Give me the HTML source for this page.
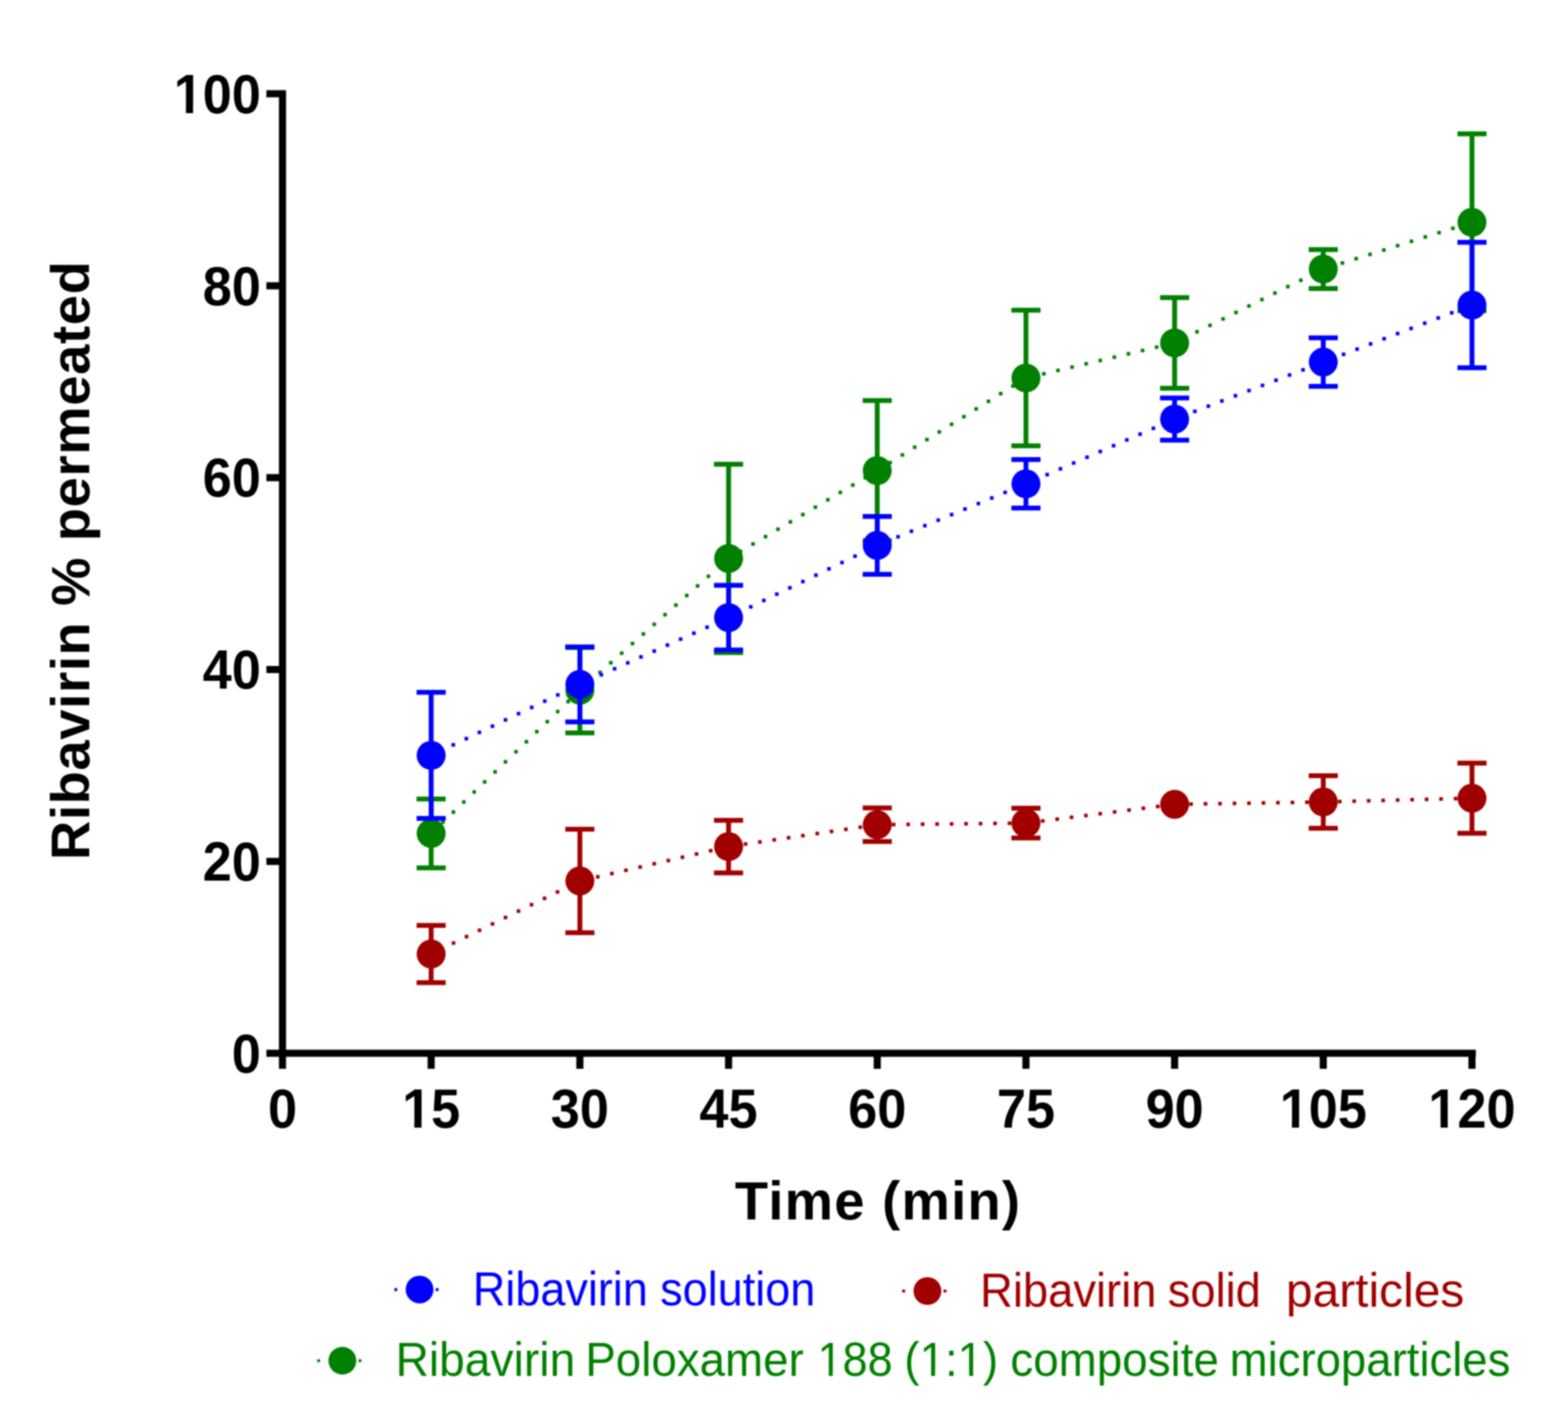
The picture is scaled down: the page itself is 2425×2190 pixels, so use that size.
<!DOCTYPE html>
<html><head><meta charset="utf-8"><title>Ribavirin permeation</title>
<style>
html,body{margin:0;padding:0;background:#fff;width:2425px;height:2190px;overflow:hidden;}
svg{display:block;filter:blur(1px);}
text{font-family:"Liberation Sans",Arial,Helvetica,sans-serif;}
</style></head><body>
<svg width="2425" height="2190" viewBox="0 0 2425 2190">
<rect width="2425" height="2190" fill="#fff"/>
<path d="M436.9 139.6V1634.6M412 1629.1H2282.5M412 1332.3H437M412 1035.5H437M412 738.7H437M412 441.9H437M412 145.1H437M436.9 1629V1653M666.8 1629V1653M896.8 1629V1653M1126.8 1629V1653M1356.7 1629V1653M1586.7 1629V1653M1816.6 1629V1653M2046.5 1629V1653M2276.5 1629V1653" stroke="#000" stroke-width="11" fill="none"/>
<g transform="translate(403.50,1658.70) scale(0.9400,1)"><text font-size="86" font-weight="bold" text-anchor="end" fill="#000" xml:space="preserve">0</text></g>
<g transform="translate(403.50,1361.90) scale(0.9400,1)"><text font-size="86" font-weight="bold" text-anchor="end" fill="#000" xml:space="preserve">20</text></g>
<g transform="translate(403.50,1065.10) scale(0.9400,1)"><text font-size="86" font-weight="bold" text-anchor="end" fill="#000" xml:space="preserve">40</text></g>
<g transform="translate(403.50,768.30) scale(0.9400,1)"><text font-size="86" font-weight="bold" text-anchor="end" fill="#000" xml:space="preserve">60</text></g>
<g transform="translate(403.50,471.50) scale(0.9400,1)"><text font-size="86" font-weight="bold" text-anchor="end" fill="#000" xml:space="preserve">80</text></g>
<g transform="translate(403.50,174.70) scale(0.9400,1)"><text font-size="86" font-weight="bold" text-anchor="end" fill="#000" xml:space="preserve">100</text><g fill="#fff"><rect x="-139.54" y="-9.98" width="16.16" height="11.18"/><rect x="-111.58" y="-9.98" width="15.06" height="11.18"/></g></g>
<g transform="translate(436.90,1744.00) scale(0.9400,1)"><text font-size="86" font-weight="bold" text-anchor="middle" fill="#000" xml:space="preserve">0</text></g>
<g transform="translate(666.85,1744.00) scale(0.9400,1)"><text font-size="86" font-weight="bold" text-anchor="middle" fill="#000" xml:space="preserve">15</text><g fill="#fff"><rect x="-43.90" y="-9.98" width="16.16" height="11.18"/><rect x="-15.95" y="-9.98" width="15.06" height="11.18"/></g></g>
<g transform="translate(896.80,1744.00) scale(0.9400,1)"><text font-size="86" font-weight="bold" text-anchor="middle" fill="#000" xml:space="preserve">30</text></g>
<g transform="translate(1126.75,1744.00) scale(0.9400,1)"><text font-size="86" font-weight="bold" text-anchor="middle" fill="#000" xml:space="preserve">45</text></g>
<g transform="translate(1356.70,1744.00) scale(0.9400,1)"><text font-size="86" font-weight="bold" text-anchor="middle" fill="#000" xml:space="preserve">60</text></g>
<g transform="translate(1586.65,1744.00) scale(0.9400,1)"><text font-size="86" font-weight="bold" text-anchor="middle" fill="#000" xml:space="preserve">75</text></g>
<g transform="translate(1816.60,1744.00) scale(0.9400,1)"><text font-size="86" font-weight="bold" text-anchor="middle" fill="#000" xml:space="preserve">90</text></g>
<g transform="translate(2046.55,1744.00) scale(0.9400,1)"><text font-size="86" font-weight="bold" text-anchor="middle" fill="#000" xml:space="preserve">105</text><g fill="#fff"><rect x="-67.81" y="-9.98" width="16.16" height="11.18"/><rect x="-39.86" y="-9.98" width="15.06" height="11.18"/></g></g>
<g transform="translate(2276.50,1744.00) scale(0.9400,1)"><text font-size="86" font-weight="bold" text-anchor="middle" fill="#000" xml:space="preserve">120</text><g fill="#fff"><rect x="-67.81" y="-9.98" width="16.16" height="11.18"/><rect x="-39.86" y="-9.98" width="15.06" height="11.18"/></g></g>
<text x="1357" y="1885.7" text-anchor="middle" font-weight="bold" font-size="84" textLength="441" lengthAdjust="spacing">Time (min)</text>
<text transform="translate(137.5,867) rotate(-90)" text-anchor="middle" font-weight="bold" font-size="84" textLength="926" lengthAdjust="spacing">Ribavirin % permeated</text>
<g fill="#008000"><rect x="682.2" y="1268.7" width="5.6" height="5.6"/><rect x="698.4" y="1253.2" width="5.6" height="5.6"/><rect x="714.5" y="1237.6" width="5.6" height="5.6"/><rect x="730.6" y="1222.1" width="5.6" height="5.6"/><rect x="746.8" y="1206.5" width="5.6" height="5.6"/><rect x="762.9" y="1191.0" width="5.6" height="5.6"/><rect x="779.0" y="1175.5" width="5.6" height="5.6"/><rect x="795.2" y="1159.9" width="5.6" height="5.6"/><rect x="811.3" y="1144.4" width="5.6" height="5.6"/><rect x="827.4" y="1128.8" width="5.6" height="5.6"/><rect x="843.6" y="1113.3" width="5.6" height="5.6"/><rect x="859.7" y="1097.7" width="5.6" height="5.6"/><rect x="875.8" y="1082.2" width="5.6" height="5.6"/><rect x="925.2" y="1037.1" width="5.6" height="5.6"/><rect x="941.9" y="1022.2" width="5.6" height="5.6"/><rect x="958.7" y="1007.4" width="5.6" height="5.6"/><rect x="975.4" y="992.5" width="5.6" height="5.6"/><rect x="992.2" y="977.7" width="5.6" height="5.6"/><rect x="1009.0" y="962.8" width="5.6" height="5.6"/><rect x="1025.7" y="947.9" width="5.6" height="5.6"/><rect x="1042.5" y="933.1" width="5.6" height="5.6"/><rect x="1059.3" y="918.2" width="5.6" height="5.6"/><rect x="1076.0" y="903.4" width="5.6" height="5.6"/><rect x="1092.8" y="888.5" width="5.6" height="5.6"/><rect x="1142.5" y="849.9" width="5.6" height="5.6"/><rect x="1161.8" y="838.5" width="5.6" height="5.6"/><rect x="1181.1" y="827.1" width="5.6" height="5.6"/><rect x="1200.4" y="815.7" width="5.6" height="5.6"/><rect x="1219.6" y="804.3" width="5.6" height="5.6"/><rect x="1238.9" y="793.0" width="5.6" height="5.6"/><rect x="1258.2" y="781.6" width="5.6" height="5.6"/><rect x="1277.5" y="770.2" width="5.6" height="5.6"/><rect x="1296.8" y="758.8" width="5.6" height="5.6"/><rect x="1316.1" y="747.4" width="5.6" height="5.6"/><rect x="1335.3" y="736.0" width="5.6" height="5.6"/><rect x="1373.8" y="712.6" width="5.6" height="5.6"/><rect x="1392.8" y="700.8" width="5.6" height="5.6"/><rect x="1411.8" y="688.9" width="5.6" height="5.6"/><rect x="1430.8" y="677.1" width="5.6" height="5.6"/><rect x="1449.9" y="665.2" width="5.6" height="5.6"/><rect x="1468.9" y="653.4" width="5.6" height="5.6"/><rect x="1487.9" y="641.6" width="5.6" height="5.6"/><rect x="1506.9" y="629.7" width="5.6" height="5.6"/><rect x="1525.9" y="617.9" width="5.6" height="5.6"/><rect x="1544.9" y="606.0" width="5.6" height="5.6"/><rect x="1563.9" y="594.2" width="5.6" height="5.6"/><rect x="1611.6" y="575.3" width="5.6" height="5.6"/><rect x="1633.4" y="570.1" width="5.6" height="5.6"/><rect x="1655.2" y="565.0" width="5.6" height="5.6"/><rect x="1677.0" y="559.8" width="5.6" height="5.6"/><rect x="1698.8" y="554.7" width="5.6" height="5.6"/><rect x="1720.6" y="549.6" width="5.6" height="5.6"/><rect x="1742.4" y="544.4" width="5.6" height="5.6"/><rect x="1764.2" y="539.3" width="5.6" height="5.6"/><rect x="1786.0" y="534.1" width="5.6" height="5.6"/><rect x="1848.5" y="510.3" width="5.6" height="5.6"/><rect x="1868.6" y="500.4" width="5.6" height="5.6"/><rect x="1888.7" y="490.4" width="5.6" height="5.6"/><rect x="1908.7" y="480.4" width="5.6" height="5.6"/><rect x="1928.8" y="470.4" width="5.6" height="5.6"/><rect x="1948.8" y="460.5" width="5.6" height="5.6"/><rect x="1968.9" y="450.5" width="5.6" height="5.6"/><rect x="1989.0" y="440.5" width="5.6" height="5.6"/><rect x="2009.0" y="430.6" width="5.6" height="5.6"/><rect x="2073.3" y="404.0" width="5.6" height="5.6"/><rect x="2094.6" y="397.3" width="5.6" height="5.6"/><rect x="2116.0" y="390.6" width="5.6" height="5.6"/><rect x="2137.4" y="383.9" width="5.6" height="5.6"/><rect x="2158.7" y="377.2" width="5.6" height="5.6"/><rect x="2180.1" y="370.4" width="5.6" height="5.6"/><rect x="2201.5" y="363.7" width="5.6" height="5.6"/><rect x="2222.8" y="357.0" width="5.6" height="5.6"/><rect x="2244.2" y="350.3" width="5.6" height="5.6"/></g>
<path d="M666.8 1235.8V1342.2M644.3 1235.8H689.3M644.3 1342.2H689.3M896.8 1001.4V1133.6M874.3 1001.4H919.3M874.3 1133.6H919.3M1126.8 718.1V1009.3M1104.2 718.1H1149.2M1104.2 1009.3H1149.2M1356.7 619.4V836.2M1334.2 619.4H1379.2M1334.2 836.2H1379.2M1586.7 479.8V689.4M1564.2 479.8H1609.2M1564.2 689.4H1609.2M1816.6 460.3V600.5M1794.1 460.3H1839.1M1794.1 600.5H1839.1M2046.5 385.9V446.3M2024.0 385.9H2069.0M2024.0 446.3H2069.0M2276.5 207.0V480.6M2254.0 207.0H2299.0M2254.0 480.6H2299.0" stroke="#008000" stroke-width="7.5" fill="none"/>
<g fill="#008000"><circle cx="666.8" cy="1289.0" r="22.4"/><circle cx="896.8" cy="1067.5" r="22.4"/><circle cx="1126.8" cy="863.7" r="22.4"/><circle cx="1356.7" cy="727.8" r="22.4"/><circle cx="1586.7" cy="584.6" r="22.4"/><circle cx="1816.6" cy="530.4" r="22.4"/><circle cx="2046.5" cy="416.1" r="22.4"/><circle cx="2276.5" cy="343.8" r="22.4"/></g>
<g fill="#A00000"><rect x="698.6" y="1455.7" width="5.6" height="5.6"/><rect x="718.7" y="1445.8" width="5.6" height="5.6"/><rect x="738.8" y="1436.0" width="5.6" height="5.6"/><rect x="758.9" y="1426.1" width="5.6" height="5.6"/><rect x="779.0" y="1416.2" width="5.6" height="5.6"/><rect x="799.1" y="1406.3" width="5.6" height="5.6"/><rect x="819.2" y="1396.4" width="5.6" height="5.6"/><rect x="839.3" y="1386.6" width="5.6" height="5.6"/><rect x="859.4" y="1376.7" width="5.6" height="5.6"/><rect x="921.7" y="1353.3" width="5.6" height="5.6"/><rect x="943.5" y="1348.2" width="5.6" height="5.6"/><rect x="965.3" y="1343.2" width="5.6" height="5.6"/><rect x="987.2" y="1338.1" width="5.6" height="5.6"/><rect x="1009.0" y="1333.1" width="5.6" height="5.6"/><rect x="1030.8" y="1328.1" width="5.6" height="5.6"/><rect x="1052.6" y="1323.0" width="5.6" height="5.6"/><rect x="1074.4" y="1318.0" width="5.6" height="5.6"/><rect x="1096.3" y="1312.9" width="5.6" height="5.6"/><rect x="1150.3" y="1302.6" width="5.6" height="5.6"/><rect x="1172.4" y="1299.4" width="5.6" height="5.6"/><rect x="1194.6" y="1296.1" width="5.6" height="5.6"/><rect x="1216.8" y="1292.9" width="5.6" height="5.6"/><rect x="1238.9" y="1289.6" width="5.6" height="5.6"/><rect x="1261.1" y="1286.3" width="5.6" height="5.6"/><rect x="1283.2" y="1283.1" width="5.6" height="5.6"/><rect x="1305.4" y="1279.8" width="5.6" height="5.6"/><rect x="1327.6" y="1276.6" width="5.6" height="5.6"/><rect x="1379.3" y="1272.4" width="5.6" height="5.6"/><rect x="1401.7" y="1272.2" width="5.6" height="5.6"/><rect x="1424.1" y="1271.9" width="5.6" height="5.6"/><rect x="1446.5" y="1271.7" width="5.6" height="5.6"/><rect x="1468.9" y="1271.5" width="5.6" height="5.6"/><rect x="1491.3" y="1271.2" width="5.6" height="5.6"/><rect x="1513.7" y="1271.0" width="5.6" height="5.6"/><rect x="1536.1" y="1270.7" width="5.6" height="5.6"/><rect x="1558.5" y="1270.5" width="5.6" height="5.6"/><rect x="1609.9" y="1266.9" width="5.6" height="5.6"/><rect x="1632.2" y="1264.1" width="5.6" height="5.6"/><rect x="1654.4" y="1261.3" width="5.6" height="5.6"/><rect x="1676.6" y="1258.5" width="5.6" height="5.6"/><rect x="1698.8" y="1255.7" width="5.6" height="5.6"/><rect x="1721.0" y="1252.9" width="5.6" height="5.6"/><rect x="1743.3" y="1250.1" width="5.6" height="5.6"/><rect x="1765.5" y="1247.3" width="5.6" height="5.6"/><rect x="1787.7" y="1244.5" width="5.6" height="5.6"/><rect x="1839.2" y="1240.8" width="5.6" height="5.6"/><rect x="1861.6" y="1240.4" width="5.6" height="5.6"/><rect x="1884.0" y="1240.1" width="5.6" height="5.6"/><rect x="1906.4" y="1239.7" width="5.6" height="5.6"/><rect x="1928.8" y="1239.4" width="5.6" height="5.6"/><rect x="1951.2" y="1239.0" width="5.6" height="5.6"/><rect x="1973.6" y="1238.6" width="5.6" height="5.6"/><rect x="1996.0" y="1238.3" width="5.6" height="5.6"/><rect x="2018.4" y="1237.9" width="5.6" height="5.6"/><rect x="2069.2" y="1236.9" width="5.6" height="5.6"/><rect x="2091.5" y="1236.3" width="5.6" height="5.6"/><rect x="2113.9" y="1235.7" width="5.6" height="5.6"/><rect x="2136.3" y="1235.2" width="5.6" height="5.6"/><rect x="2158.7" y="1234.6" width="5.6" height="5.6"/><rect x="2181.1" y="1234.0" width="5.6" height="5.6"/><rect x="2203.5" y="1233.5" width="5.6" height="5.6"/><rect x="2225.9" y="1232.9" width="5.6" height="5.6"/><rect x="2248.3" y="1232.3" width="5.6" height="5.6"/></g>
<path d="M666.8 1431.3V1519.7M644.3 1431.3H689.3M644.3 1519.7H689.3M896.8 1282.5V1442.5M874.3 1282.5H919.3M874.3 1442.5H919.3M1126.8 1268.7V1349.9M1104.2 1268.7H1149.2M1104.2 1349.9H1149.2M1356.7 1249.5V1301.5M1334.2 1249.5H1379.2M1334.2 1301.5H1379.2M1586.7 1249.9V1296.1M1564.2 1249.9H1609.2M1564.2 1296.1H1609.2M2046.5 1199.7V1280.9M2024.0 1199.7H2069.0M2024.0 1280.9H2069.0M2276.5 1180.2V1288.8M2254.0 1180.2H2299.0M2254.0 1288.8H2299.0" stroke="#A00000" stroke-width="7.5" fill="none"/>
<g fill="#A00000"><circle cx="666.8" cy="1475.5" r="22.4"/><circle cx="896.8" cy="1362.5" r="22.4"/><circle cx="1126.8" cy="1309.3" r="22.4"/><circle cx="1356.7" cy="1275.5" r="22.4"/><circle cx="1586.7" cy="1273.0" r="22.4"/><circle cx="1816.6" cy="1244.0" r="22.4"/><circle cx="2046.5" cy="1240.3" r="22.4"/><circle cx="2276.5" cy="1234.5" r="22.4"/></g>
<g fill="#0000FF"><rect x="698.2" y="1149.2" width="5.6" height="5.6"/><rect x="718.4" y="1139.6" width="5.6" height="5.6"/><rect x="738.6" y="1129.9" width="5.6" height="5.6"/><rect x="758.8" y="1120.3" width="5.6" height="5.6"/><rect x="779.0" y="1110.6" width="5.6" height="5.6"/><rect x="799.2" y="1100.9" width="5.6" height="5.6"/><rect x="819.5" y="1091.3" width="5.6" height="5.6"/><rect x="839.7" y="1081.6" width="5.6" height="5.6"/><rect x="859.9" y="1072.0" width="5.6" height="5.6"/><rect x="927.2" y="1040.8" width="5.6" height="5.6"/><rect x="947.7" y="1031.6" width="5.6" height="5.6"/><rect x="968.1" y="1022.4" width="5.6" height="5.6"/><rect x="988.5" y="1013.2" width="5.6" height="5.6"/><rect x="1009.0" y="1004.1" width="5.6" height="5.6"/><rect x="1029.4" y="994.9" width="5.6" height="5.6"/><rect x="1049.8" y="985.7" width="5.6" height="5.6"/><rect x="1070.3" y="976.5" width="5.6" height="5.6"/><rect x="1090.7" y="967.3" width="5.6" height="5.6"/><rect x="1158.3" y="935.7" width="5.6" height="5.6"/><rect x="1178.5" y="925.9" width="5.6" height="5.6"/><rect x="1198.6" y="916.1" width="5.6" height="5.6"/><rect x="1218.8" y="906.3" width="5.6" height="5.6"/><rect x="1238.9" y="896.6" width="5.6" height="5.6"/><rect x="1259.1" y="886.8" width="5.6" height="5.6"/><rect x="1279.2" y="877.0" width="5.6" height="5.6"/><rect x="1299.4" y="867.2" width="5.6" height="5.6"/><rect x="1319.5" y="857.4" width="5.6" height="5.6"/><rect x="1386.1" y="827.4" width="5.6" height="5.6"/><rect x="1406.8" y="818.8" width="5.6" height="5.6"/><rect x="1427.5" y="810.2" width="5.6" height="5.6"/><rect x="1448.2" y="801.7" width="5.6" height="5.6"/><rect x="1468.9" y="793.1" width="5.6" height="5.6"/><rect x="1489.6" y="784.5" width="5.6" height="5.6"/><rect x="1510.3" y="776.0" width="5.6" height="5.6"/><rect x="1531.0" y="767.4" width="5.6" height="5.6"/><rect x="1551.7" y="758.8" width="5.6" height="5.6"/><rect x="1616.7" y="731.2" width="5.6" height="5.6"/><rect x="1637.2" y="722.3" width="5.6" height="5.6"/><rect x="1657.7" y="713.3" width="5.6" height="5.6"/><rect x="1678.3" y="704.4" width="5.6" height="5.6"/><rect x="1698.8" y="695.5" width="5.6" height="5.6"/><rect x="1719.4" y="686.5" width="5.6" height="5.6"/><rect x="1739.9" y="677.6" width="5.6" height="5.6"/><rect x="1760.4" y="668.6" width="5.6" height="5.6"/><rect x="1781.0" y="659.7" width="5.6" height="5.6"/><rect x="1845.1" y="633.4" width="5.6" height="5.6"/><rect x="1866.0" y="625.4" width="5.6" height="5.6"/><rect x="1886.9" y="617.3" width="5.6" height="5.6"/><rect x="1907.9" y="609.3" width="5.6" height="5.6"/><rect x="1928.8" y="601.3" width="5.6" height="5.6"/><rect x="1949.7" y="593.3" width="5.6" height="5.6"/><rect x="1970.6" y="585.3" width="5.6" height="5.6"/><rect x="1991.5" y="577.2" width="5.6" height="5.6"/><rect x="2012.4" y="569.2" width="5.6" height="5.6"/><rect x="2075.1" y="545.2" width="5.6" height="5.6"/><rect x="2096.0" y="537.2" width="5.6" height="5.6"/><rect x="2116.9" y="529.1" width="5.6" height="5.6"/><rect x="2137.8" y="521.1" width="5.6" height="5.6"/><rect x="2158.7" y="513.1" width="5.6" height="5.6"/><rect x="2179.6" y="505.1" width="5.6" height="5.6"/><rect x="2200.6" y="497.1" width="5.6" height="5.6"/><rect x="2221.5" y="489.0" width="5.6" height="5.6"/><rect x="2242.4" y="481.0" width="5.6" height="5.6"/></g>
<path d="M666.8 1070.8V1265.8M644.3 1070.8H689.3M644.3 1265.8H689.3M896.8 1000.5V1116.5M874.3 1000.5H919.3M874.3 1116.5H919.3M1126.8 905.2V1005.2M1104.2 905.2H1149.2M1104.2 1005.2H1149.2M1356.7 798.8V888.2M1334.2 798.8H1379.2M1334.2 888.2H1379.2M1586.7 710.8V785.8M1564.2 710.8H1609.2M1564.2 785.8H1609.2M1816.6 615.6V680.8M1794.1 615.6H1839.1M1794.1 680.8H1839.1M2046.5 522.5V597.5M2024.0 522.5H2069.0M2024.0 597.5H2069.0M2276.5 374.8V568.8M2254.0 374.8H2299.0M2254.0 568.8H2299.0" stroke="#0000FF" stroke-width="7.5" fill="none"/>
<g fill="#0000FF"><circle cx="666.8" cy="1168.3" r="22.4"/><circle cx="896.8" cy="1058.5" r="22.4"/><circle cx="1126.8" cy="955.2" r="22.4"/><circle cx="1356.7" cy="843.5" r="22.4"/><circle cx="1586.7" cy="748.3" r="22.4"/><circle cx="1816.6" cy="648.2" r="22.4"/><circle cx="2046.5" cy="560.0" r="22.4"/><circle cx="2276.5" cy="471.8" r="22.4"/></g>
<line x1="609.9" y1="1994.4" x2="682.9" y2="1994.4" stroke="#0000FF" stroke-width="4.5" stroke-dasharray="4.5 16.8"/><circle cx="648.9" cy="1994.4" r="21.5" fill="#0000FF"/>
<line x1="1395.3" y1="1996.7" x2="1468.3" y2="1996.7" stroke="#A00000" stroke-width="4.5" stroke-dasharray="4.5 16.8"/><circle cx="1434.3" cy="1996.7" r="21.5" fill="#A00000"/>
<line x1="490.5" y1="2104.5" x2="563.5" y2="2104.5" stroke="#008000" stroke-width="4.5" stroke-dasharray="4.5 16.8"/><circle cx="529.5" cy="2104.5" r="21.5" fill="#008000"/>
<g transform="translate(731.29,2018.50) scale(0.9279,1)"><text font-size="75" text-anchor="start" fill="#0000FF" xml:space="preserve">Ribavirin</text></g>
<g transform="translate(1021.06,2018.50) scale(0.9282,1)"><text font-size="75" text-anchor="start" fill="#0000FF" xml:space="preserve">solution</text></g>
<g transform="translate(1515.75,2021.00) scale(0.9350,1)"><text font-size="75" text-anchor="start" fill="#A00000" xml:space="preserve">Ribavirin</text></g>
<g transform="translate(1806.05,2021.00) scale(0.9333,1)"><text font-size="75" text-anchor="start" fill="#A00000" xml:space="preserve">solid</text></g>
<g transform="translate(1988.72,2021.00) scale(0.9881,1)"><text font-size="75" text-anchor="start" fill="#A00000" xml:space="preserve">particles</text></g>
<g transform="translate(611.64,2127.60) scale(0.9528,1)"><text font-size="75" text-anchor="start" fill="#008000" xml:space="preserve">Ribavirin</text></g>
<g transform="translate(905.20,2127.60) scale(0.9428,1)"><text font-size="75" text-anchor="start" fill="#008000" xml:space="preserve">Poloxamer</text></g>
<g transform="translate(1264.19,2127.60) scale(0.9297,1)"><text font-size="75" text-anchor="start" fill="#008000" xml:space="preserve">188</text><g fill="#fff"><rect x="4.21" y="-6.80" width="14.65" height="8.00"/><rect x="25.49" y="-6.80" width="14.06" height="8.00"/></g></g>
<g transform="translate(1398.62,2127.60) scale(0.9420,1)"><text font-size="75" text-anchor="start" fill="#008000" xml:space="preserve">(1:1)</text><g fill="#fff"><rect x="29.18" y="-6.80" width="14.65" height="8.00"/><rect x="50.45" y="-6.80" width="14.06" height="8.00"/><rect x="91.71" y="-6.80" width="14.65" height="8.00"/><rect x="112.99" y="-6.80" width="14.06" height="8.00"/></g></g>
<g transform="translate(1562.59,2127.60) scale(0.9436,1)"><text font-size="75" text-anchor="start" fill="#008000" xml:space="preserve">composite</text></g>
<g transform="translate(1901.83,2127.60) scale(0.9387,1)"><text font-size="75" text-anchor="start" fill="#008000" xml:space="preserve">microparticles</text></g>
</svg>
</body></html>
